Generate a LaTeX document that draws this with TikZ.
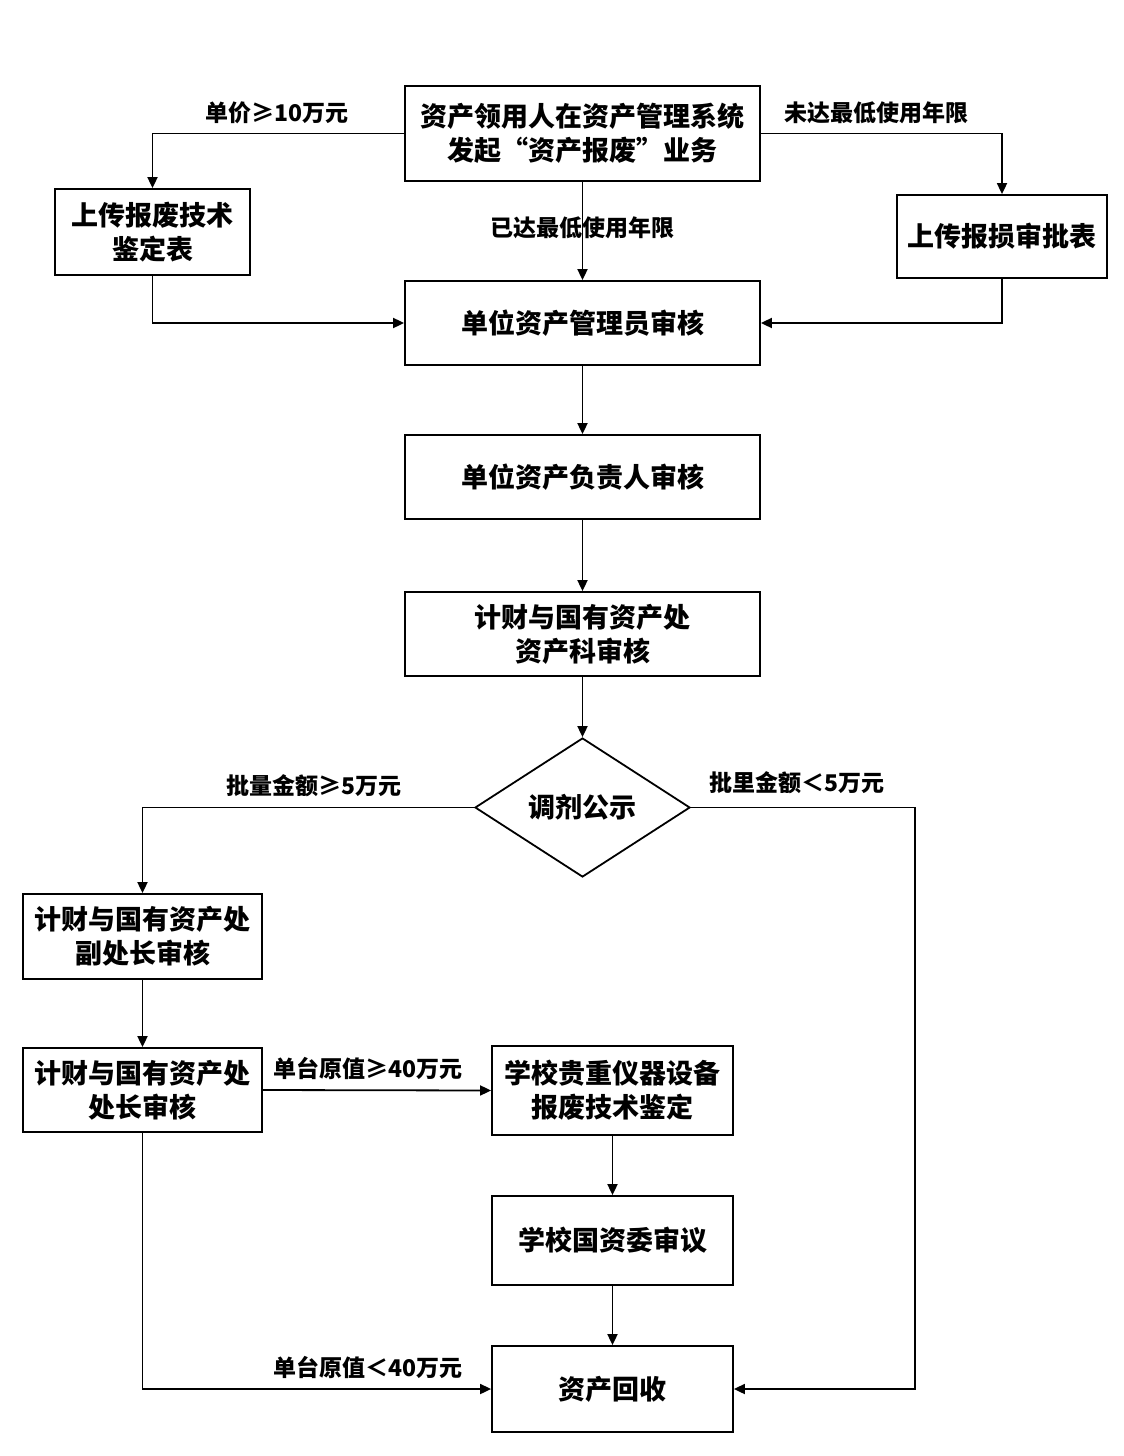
\documentclass[tikz,border=0pt]{standalone}
\usepackage{fontspec}
\newfontfamily\cjk{Noto Sans CJK SC}
\usetikzlibrary{arrows.meta,shapes.geometric}
\begin{document}
\begin{tikzpicture}[x=1pt,y=-1pt,
  box/.style={draw,line width=1.8pt,rectangle,inner sep=0pt,align=center,
    font=\cjk\bfseries\fontsize{27}{34}\selectfont},
  lbl/.style={font=\cjk\bfseries\fontsize{23}{26}\selectfont,inner sep=0pt},
  conn/.style={line width=1.8pt},
  arr/.style={conn,-{Triangle[length=11pt,width=10pt]}}]
\useasboundingbox (0,0) rectangle (1124,1456);
% boxes
\node[box,minimum width=355pt,minimum height=95pt] (start) at (582.5,133.5) {资产领用人在资产管理系统\\发起“资产报废”业务};
\node[box,minimum width=195pt,minimum height=86pt] (tech) at (152.5,232) {上传报废技术\\鉴定表};
\node[box,minimum width=210pt,minimum height=83pt] (loss) at (1002,236.5) {上传报损审批表};
\node[box,minimum width=355pt,minimum height=84pt] (admin) at (582.5,323) {单位资产管理员审核};
\node[box,minimum width=355pt,minimum height=84pt] (head) at (582.5,477) {单位资产负责人审核};
\node[box,minimum width=355pt,minimum height=84pt] (sec) at (582.5,634) {计财与国有资产处\\资产科审核};
\node[draw,line width=1.8pt,diamond,aspect=1.55,minimum width=215pt,minimum height=139pt,inner sep=0pt,
  font=\cjk\bfseries\fontsize{27}{34}\selectfont] (pub) at (582.5,807.5) {调剂公示};
\node[box,minimum width=239pt,minimum height=85pt] (vdir) at (142.5,936.5) {计财与国有资产处\\副处长审核};
\node[box,minimum width=239pt,minimum height=84pt] (dir) at (142.5,1090) {计财与国有资产处\\处长审核};
\node[box,minimum width=241pt,minimum height=89pt] (eval) at (612.5,1090.5) {学校贵重仪器设备\\报废技术鉴定};
\node[box,minimum width=241pt,minimum height=89pt] (comm) at (612.5,1240.5) {学校国资委审议};
\node[box,minimum width=241pt,minimum height=86pt] (rec) at (612.5,1389) {资产回收};
% connectors
\draw[arr] (start.west) -| (tech.north);
\draw[arr] (start.east) -| (loss.north);
\draw[arr] (start.south) -- (admin.north);
\draw[arr] (tech.south) |- (admin.west);
\draw[arr] (loss.south) |- (admin.east);
\draw[arr] (admin.south) -- (head.north);
\draw[arr] (head.south) -- (sec.north);
\draw[arr] (sec.south) -- (pub.north);
\draw[arr] (pub.west) -| (vdir.north);
\coordinate (rturn) at (915,807.5);
\draw[arr] (pub.east) -- (rturn) |- (rec.east);
\draw[arr] (vdir.south) -- (dir.north);
\draw[arr] (dir.east) -- (eval.west);
\draw[arr] (eval.south) -- (comm.north);
\draw[arr] (comm.south) -- (rec.north);
\draw[arr] (dir.south) |- (rec.west);
% labels
\node[lbl] (l1) at (277,113) {单价≥10万元};
\node[lbl] (l2) at (876,113) {未达最低使用年限};
\node[lbl] (l3) at (582,228) {已达最低使用年限};
\node[lbl] (l4) at (314,786) {批量金额≥5万元};
\node[lbl] (l5) at (797,783) {批里金额＜5万元};
\node[lbl] (l6) at (368,1068) {单台原值≥40万元};
\node[lbl] (l7) at (368,1367) {单台原值＜40万元};
\end{tikzpicture}
\end{document}
